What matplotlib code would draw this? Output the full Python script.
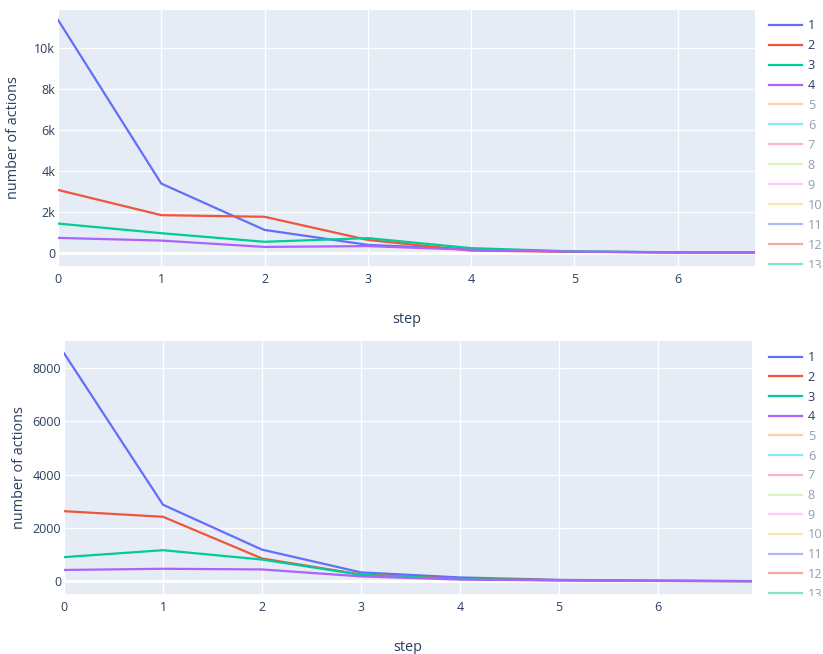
import matplotlib.pyplot as plt
from matplotlib.patches import Rectangle
from matplotlib.ticker import FuncFormatter

# data
steps = [0, 1, 2, 3, 4, 5, 6, 7]
top_1 = [11370, 3380, 1120, 390, 170, 60, 25, 15]
top_2 = [3070, 1840, 1760, 630, 110, 50, 20, 10]
top_3 = [1430, 960, 540, 720, 230, 70, 30, 15]
top_4 = [730, 600, 290, 330, 150, 60, 25, 15]
bot_1 = [8540, 2870, 1190, 340, 150, 60, 30, 15]
bot_2 = [2630, 2420, 860, 260, 100, 50, 25, 10]
bot_3 = [910, 1170, 820, 250, 90, 45, 20, 10]
bot_4 = [430, 475, 450, 190, 70, 40, 20, 10]
labels = [str(i) for i in range(1, 15)]

colors = ['#636EFA', '#EF553B', '#00CC96', '#AB63FA', '#FFA15A', '#19D3F3',
          '#FF6692', '#B6E880', '#FF97FF', '#FECB52', '#636EFA', '#EF553B',
          '#00CC96', '#AB63FA']
fg = '#2a3f5f'

plt.rcParams['font.family'] = ['Open Sans', 'DejaVu Sans']

fig = plt.figure(figsize=(8.23, 6.54), dpi=100)


def panel(rect, series, xmax, ylim, yticks, fmt, leg_top, leg_clip, step_y, ypad):
    ax = fig.add_axes(rect)
    ax.set_facecolor('#E5ECF6')
    for s in ax.spines.values():
        s.set_visible(False)
    ax.grid(True, color='white', linewidth=1.0)
    ax.set_axisbelow(True)
    ax.axhline(0, color='white', linewidth=2.2, zorder=0.5)
    handles = []
    for i, lab in enumerate(labels):
        if i < len(series):
            h, = ax.plot(steps, series[i], color=colors[i], linewidth=1.6)
        else:
            h, = ax.plot([], [], color=colors[i], linewidth=1.6, alpha=0.5)
        h.set_label(lab)
        handles.append(h)
    ax.set_xlim(0, xmax)
    ax.set_ylim(*ylim)
    ax.set_yticks(yticks)
    ax.yaxis.set_major_formatter(FuncFormatter(fmt))
    ax.set_xticks(range(0, 7))
    ax.tick_params(length=0, labelsize=9.0, labelcolor=fg)
    ax.tick_params(axis='y', pad=2)
    ax.tick_params(axis='x', pad=5)
    ax.set_xlabel('step', fontsize=10.4, color=fg, labelpad=19)
    ax.set_ylabel('number of actions', fontsize=10.4, color=fg, labelpad=ypad)

    leg = ax.legend(handles=handles, loc='upper left',
                    bbox_to_anchor=(0.928, leg_top), bbox_transform=fig.transFigure,
                    frameon=False, fontsize=9.2, handlelength=2.6,
                    handletextpad=0.45, labelspacing=step_y, borderaxespad=0)
    for i, t in enumerate(leg.get_texts()):
        t.set_color(fg)
        if i >= len(series):
            t.set_alpha(0.5)
    clip = Rectangle((0.9, leg_clip[0]), 0.1, leg_clip[1] - leg_clip[0],
                     transform=fig.transFigure, visible=False)
    fig.add_artist(clip)
    for a in leg.get_lines() + leg.get_texts():
        a.set_clip_path(clip)
    return ax


panel([0.0705, 0.5933, 0.847, 0.3914],
      [top_1, top_2, top_3, top_4], 6.75, (-640, 11850),
      [0, 2000, 4000, 6000, 8000, 10000],
      lambda v, p: '0' if v == 0 else '%dk' % (v / 1000),
      1 - 14 / 654, (1 - 268 / 654, 1.0), 0.545, 9.5)

panel([0.0778, 0.0917, 0.836, 0.387],
      [bot_1, bot_2, bot_3, bot_4], 6.95, (-470, 9000),
      [0, 2000, 4000, 6000, 8000],
      lambda v, p: '%d' % v,
      1 - 346 / 654, (1 - 596 / 654, 1 - 335 / 654), 0.525, 4)

fig.savefig('out.png', dpi=100)
